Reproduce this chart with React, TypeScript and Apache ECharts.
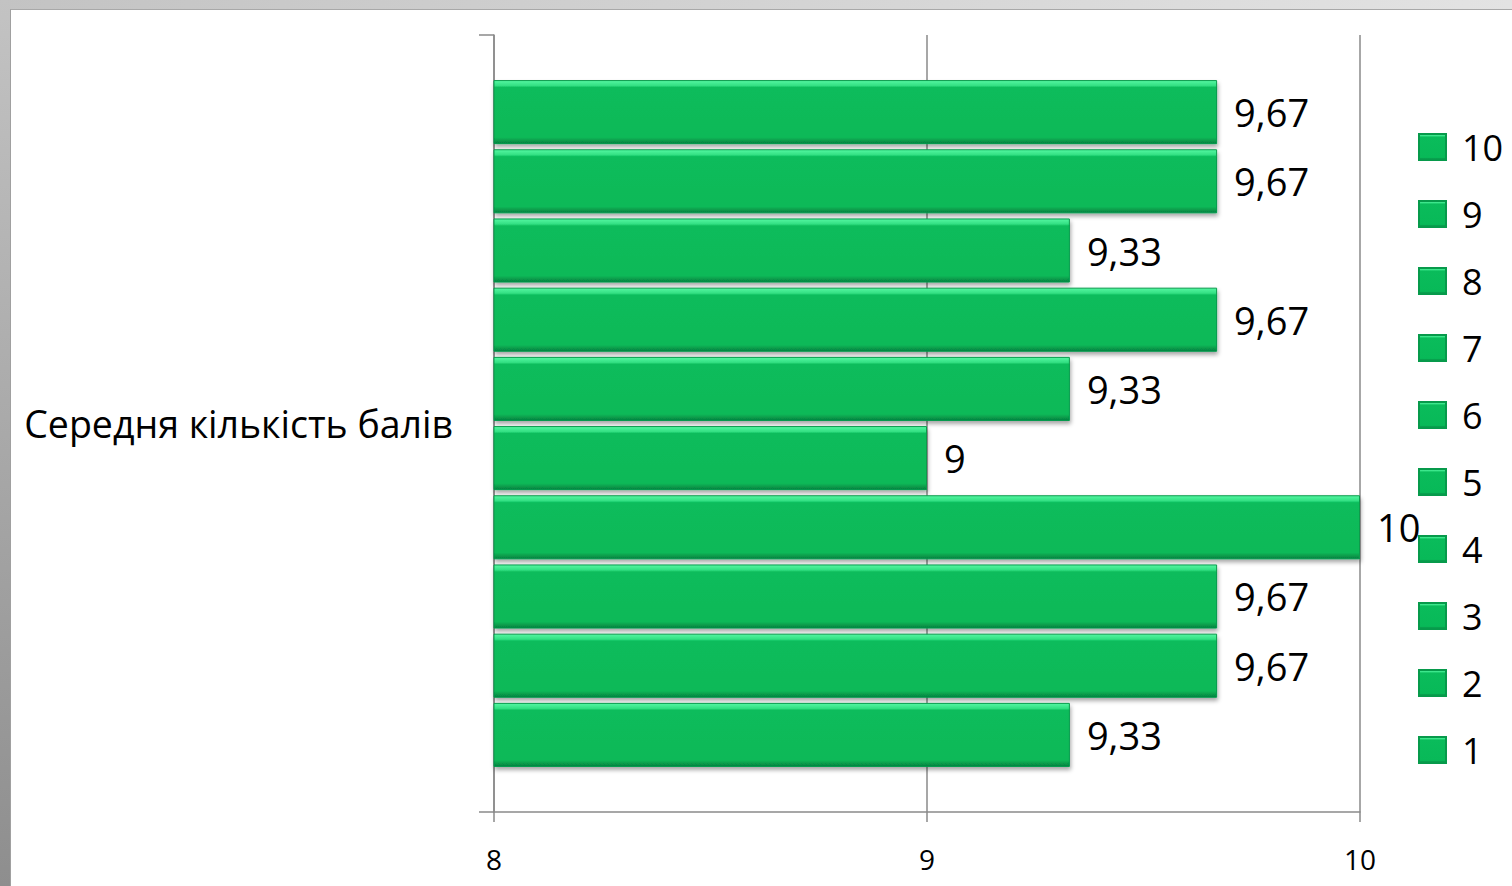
import React, { useEffect, useRef } from "react";
import * as echarts from "echarts";

const categories = ["Середня кількість балів"];
const seriesNames = ["1", "2", "3", "4", "5", "6", "7", "8", "9", "10"];
const seriesValues = [9.33, 9.67, 9.67, 10, 9, 9.33, 9.67, 9.33, 9.67, 9.67];
const axisMin = 8;
const axisMax = 10;
const axisInterval = 1;

const FONT = "'Open Sans', 'Noto Sans', sans-serif";

const barFill = new echarts.graphic.LinearGradient(0, 0, 0, 1, [
  { offset: 0, color: "#55f7a2" },
  { offset: 0.08, color: "#33e083" },
  { offset: 0.11, color: "#0abc5b" },
  { offset: 0.9, color: "#08b958" },
  { offset: 1, color: "#06803f" },
]);

export default function App() {
  const ref = useRef<HTMLDivElement>(null);

  useEffect(() => {
    if (!ref.current) return;
    const chart = echarts.init(ref.current, undefined, { renderer: "svg" });
    // ECharts stacks horizontal bars top-down in series order, so series "10" goes first
    const order = seriesNames.map((_, i) => i).reverse();
    const series = order.map((i) => ({
      name: seriesNames[i],
      type: "bar",
      data: [seriesValues[i]],
      barGap: "8%",
      barCategoryGap: "11.6%",
      itemStyle: {
        color: barFill,
        borderColor: "#079a4b",
        borderWidth: 1,
        shadowColor: "rgba(0,0,0,0.35)",
        shadowBlur: 4,
        shadowOffsetX: 1,
        shadowOffsetY: 3,
      },
      label: {
        show: true,
        position: "right",
        distance: 17,
        fontSize: 38,
        fontFamily: FONT,
        color: "#000",
        formatter: (p: any) => String(p.value).replace(".", ","),
      },
    }));
    chart.setOption({
      animation: false,
      backgroundColor: "transparent",
      textStyle: { fontFamily: FONT },
      grid: { left: 494, right: 152, top: 35, bottom: 74, containLabel: false },
      legend: {
        orient: "vertical",
        left: 1413,
        top: 122,
        itemWidth: 27,
        itemHeight: 26,
        itemGap: 27,
        icon: "rect",
        data: [...seriesNames].reverse(),
        textStyle: {
          fontSize: 36,
          lineHeight: 40,
          color: "#000",
          fontFamily: FONT,
          padding: [0, 0, 0, 11],
        },
      },
      xAxis: {
        type: "value",
        min: axisMin,
        max: axisMax,
        interval: axisInterval,
        axisLine: { show: true, lineStyle: { color: "#8a8a8a", width: 1.5 } },
        axisTick: { show: true, length: 10, lineStyle: { color: "#8a8a8a", width: 1.5 } },
        splitLine: { show: true, lineStyle: { color: "#8a8a8a", width: 1.5 } },
        axisLabel: { fontSize: 28, color: "#000", margin: 33, fontFamily: FONT },
      },
      yAxis: {
        type: "category",
        data: categories,
        axisLine: { show: true, lineStyle: { color: "#8a8a8a", width: 1.5 } },
        axisTick: { show: true, length: 15, lineStyle: { color: "#8a8a8a", width: 1.5 } },
        axisLabel: { fontSize: 37.5, color: "#000", margin: 41, fontFamily: FONT },
      },
      series,
    });
    return () => chart.dispose();
  }, []);

  return (
    <div
      style={{
        position: "fixed",
        left: 0,
        top: 0,
        width: 1512,
        height: 886,
        overflow: "hidden",
        background: "#ffffff",
      }}
    >
      <div
        style={{
          position: "absolute",
          left: 0,
          top: 0,
          width: 1512,
          height: 9,
          background: "linear-gradient(to right, #c3c3c3, #e3e3e3)",
        }}
      />
      <div
        style={{
          position: "absolute",
          left: 0,
          top: 0,
          width: 10,
          height: 886,
          background: "linear-gradient(to bottom, #c3c3c3, #8e8e8e)",
        }}
      />
      <div
        style={{
          position: "absolute",
          left: 10,
          top: 9,
          width: 1502,
          height: 877,
          background: "#ffffff",
          borderLeft: "1px solid #a0a0a0",
          borderTop: "1px solid #a8a8a8",
          boxSizing: "border-box",
        }}
      />
      <div
        ref={ref}
        style={{ position: "absolute", left: 0, top: 0, width: 1512, height: 886 }}
      />
    </div>
  );
}
